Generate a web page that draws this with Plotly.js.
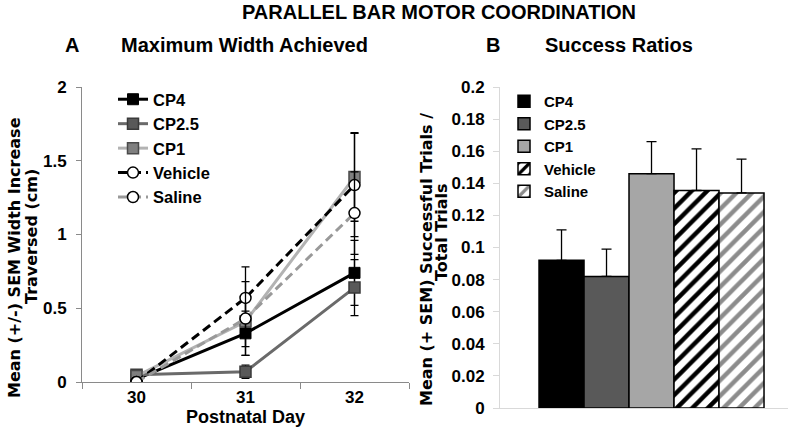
<!DOCTYPE html>
<html><head><meta charset="utf-8">
<script src="https://cdn.plot.ly/plotly-3.0.1.min.js"></script>
<style>html,body{margin:0;padding:0;background:#fff}#chart{width:800px;height:432px}</style>
</head><body><div id="chart"></div>
<script>
// ---- data ----
const days = ['30', '31', '32'];
const seriesNames = ['CP4', 'CP2.5', 'CP1', 'Vehicle', 'Saline'];

const cp4Width = [0.02, 0.33, 0.74];
const cp4WidthErr = [0.03, 0.15, 0.22];
const cp25Width = [0.05, 0.07, 0.64];
const cp25WidthErr = [0.03, 0.045, 0.19];
const cp1Width = [0.04, 0.41, 1.39];
const cp1WidthErr = [0.03, 0.17, 0.30];
const vehicleWidth = [0.0, 0.57, 1.335];
const vehicleWidthErr = [0.03, 0.21, 0.35];
const salineWidth = [0.0, 0.43, 1.145];
const salineWidthErr = [0.03, 0.25, 0.28];

const successRatio = [0.092, 0.082, 0.146, 0.1355, 0.134];
const successRatioErr = [0.019, 0.017, 0.020, 0.026, 0.021];

const widthTicks = [0, 0.5, 1, 1.5, 2];
const ratioTicks = [0, 0.02, 0.04, 0.06, 0.08, 0.1, 0.12, 0.14, 0.16, 0.18, 0.2];

// ---- styles ----
const SANS = 'Liberation Sans, Arial, sans-serif';
const DJ = 'DejaVu Sans, sans-serif';

const lineStyles = [
  {line: {color: '#000000', width: 3}, marker: {symbol: 'square', size: 11, color: '#000000', line: {color: '#000000', width: 1}}},
  {line: {color: '#6a6a6a', width: 3}, marker: {symbol: 'square', size: 11, color: '#595959', line: {color: '#3a3a3a', width: 1.5}}},
  {line: {color: '#b3b3b3', width: 3}, marker: {symbol: 'square', size: 11, color: '#7f7f7f', line: {color: '#4a4a4a', width: 1.5}}},
  {line: {color: '#000000', width: 3, dash: '9px,5px'}, marker: {symbol: 'circle', size: 11, color: '#ffffff', line: {color: '#000000', width: 1.5}}},
  {line: {color: '#999999', width: 3, dash: '9px,5px'}, marker: {symbol: 'circle', size: 11, color: '#ffffff', line: {color: '#000000', width: 1.5}}}
];
const widthSeries = [cp4Width, cp25Width, cp1Width, vehicleWidth, salineWidth];
const widthErrs = [cp4WidthErr, cp25WidthErr, cp1WidthErr, vehicleWidthErr, salineWidthErr];

const barStyles = [
  {color: '#000000', pattern: {shape: ''}},
  {color: '#595959', pattern: {shape: ''}},
  {color: '#a6a6a6', pattern: {shape: ''}},
  {color: '#ffffff', pattern: {shape: '/', fgcolor: '#000000', bgcolor: '#ffffff', size: 11, solidity: 0.4, fillmode: 'replace'}},
  {color: '#ffffff', pattern: {shape: '/', fgcolor: '#8c8c8c', bgcolor: '#ffffff', size: 11, solidity: 0.4, fillmode: 'replace'}}
];

const traces = [];
seriesNames.forEach((name, i) => {
  traces.push({
    type: 'scatter', mode: 'lines+markers', name: name,
    x: days, y: widthSeries[i],
    xaxis: 'x', yaxis: 'y', legend: 'legend',
    line: lineStyles[i].line, marker: lineStyles[i].marker,
    error_y: {type: 'data', array: widthErrs[i], visible: true, color: '#000000', thickness: 1.3, width: 4}
  });
});
seriesNames.forEach((name, i) => {
  traces.push({
    type: 'bar', name: name,
    x: [name], y: [successRatio[i]],
    xaxis: 'x2', yaxis: 'y2', legend: 'legend2',
    width: 1,
    marker: {color: barStyles[i].color, pattern: barStyles[i].pattern, line: {color: '#000000', width: 1.5}},
    error_y: {type: 'data', symmetric: false, array: [successRatioErr[i]], arrayminus: [0], visible: true, color: '#000000', thickness: 1.3, width: 5}
  });
});

const W = 800, H = 432;
const px = v => v / W;
const py = v => 1 - v / H;
const f = (family, size) => ({family: family, size: size, color: '#000000', weight: 'bold'});

const layout = {
  width: W, height: H,
  margin: {l: 0, r: 0, t: 0, b: 0},
  paper_bgcolor: '#ffffff', plot_bgcolor: 'rgba(0,0,0,0)',
  barmode: 'overlay',
  showlegend: true,
  xaxis: {
    domain: [px(82), px(409)], anchor: 'y', type: 'category', categoryarray: days,
    range: [-0.5, 2.5], showline: true, linecolor: '#8a8a8a', linewidth: 1,
    ticks: 'outside', tickson: 'boundaries', ticklen: 6, tickcolor: '#8a8a8a',
    tickfont: f(SANS, 17), showgrid: false, zeroline: false, fixedrange: true,
    title: {text: 'Postnatal Day', font: f(SANS, 18), standoff: 2}
  },
  yaxis: {
    domain: [py(382), py(87)], anchor: 'x', range: [0, 2], tickvals: widthTicks,
    showline: true, linecolor: '#8a8a8a', linewidth: 1,
    ticks: 'outside', ticklen: 5, tickcolor: '#8a8a8a', ticklabelstandoff: 6,
    tickfont: f(SANS, 17), showgrid: false, zeroline: false, fixedrange: true
  },
  xaxis2: {
    domain: [px(500), px(788)], anchor: 'y2', type: 'category', categoryarray: seriesNames,
    range: [-1.367, 5.033], showticklabels: false, ticks: '',
    showline: true, linecolor: '#d9d9d9', linewidth: 1, showgrid: false, zeroline: false, fixedrange: true
  },
  yaxis2: {
    domain: [py(408), py(87)], anchor: 'x2', range: [0, 0.2], tickvals: ratioTicks,
    showline: true, linecolor: '#d9d9d9', linewidth: 1,
    ticks: 'outside', ticklen: 6, tickcolor: '#d9d9d9', ticklabelstandoff: 5,
    tickfont: f(SANS, 17), showgrid: false, zeroline: false, fixedrange: true
  },
  legend: {
    x: px(113), y: py(82), xanchor: 'left', yanchor: 'top',
    bgcolor: 'rgba(0,0,0,0)', borderwidth: 0, tracegroupgap: 0,
    font: f(SANS, 16.5)
  },
  legend2: {
    x: px(504), y: py(85), xanchor: 'left', yanchor: 'top',
    bgcolor: 'rgba(0,0,0,0)', borderwidth: 0, tracegroupgap: 0,
    font: f(SANS, 15)
  },
  annotations: [
    {text: 'PARALLEL BAR MOTOR COORDINATION', x: px(439), y: py(12), xref: 'paper', yref: 'paper', xanchor: 'center', yanchor: 'middle', showarrow: false,
     font: f(SANS, 20)},
    {text: 'A', x: px(72), y: py(45), xref: 'paper', yref: 'paper', xanchor: 'center', yanchor: 'middle', showarrow: false,
     font: f(SANS, 20)},
    {text: 'Maximum Width Achieved', x: px(244), y: py(45), xref: 'paper', yref: 'paper', xanchor: 'center', yanchor: 'middle', showarrow: false,
     font: f(SANS, 20)},
    {text: 'B', x: px(493), y: py(45), xref: 'paper', yref: 'paper', xanchor: 'center', yanchor: 'middle', showarrow: false,
     font: f(SANS, 20)},
    {text: 'Success Ratios', x: px(619), y: py(45), xref: 'paper', yref: 'paper', xanchor: 'center', yanchor: 'middle', showarrow: false,
     font: f(SANS, 20)},
    {text: 'Mean (+/-) SEM Width Increase', x: px(14), y: py(258), xref: 'paper', yref: 'paper', xanchor: 'center', yanchor: 'middle', textangle: -90, showarrow: false,
     font: f(DJ, 16)},
    {text: 'Traversed (cm)', x: px(31), y: py(237), xref: 'paper', yref: 'paper', xanchor: 'center', yanchor: 'middle', textangle: -90, showarrow: false,
     font: f(DJ, 16)},
    {text: 'Mean (+ SEM) Successful Trials /', x: px(426), y: py(260), xref: 'paper', yref: 'paper', xanchor: 'center', yanchor: 'middle', textangle: -90, showarrow: false,
     font: f(DJ, 16)},
    {text: 'Total Trials', x: px(441), y: py(232), xref: 'paper', yref: 'paper', xanchor: 'center', yanchor: 'middle', textangle: -90, showarrow: false,
     font: f(DJ, 16)}
  ]
};

Plotly.newPlot('chart', traces, layout, {displayModeBar: false, staticPlot: true});
</script>
</body></html>
